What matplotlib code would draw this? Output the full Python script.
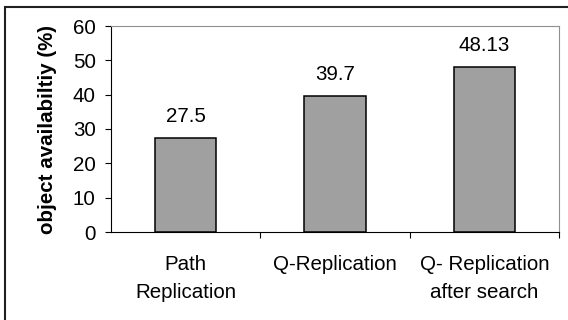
import matplotlib
matplotlib.use('Agg')
import matplotlib.pyplot as plt
from matplotlib.patches import Rectangle

# Data
categories = ['Path\nReplication', 'Q-Replication', 'Q- Replication\nafter search']
values = [27.5, 39.7, 48.13]
value_labels = ['27.5', '39.7', '48.13']
y_ticks = [0, 10, 20, 30, 40, 50, 60]

plt.rcParams['font.family'] = ['Liberation Sans', 'DejaVu Sans']
FS = 14.8

W, H = 568, 320
fig = plt.figure(figsize=(W / 100, H / 100), dpi=100)

# outer chart frame (only left/top visible in the reference)
fig.patches.append(Rectangle((5 / W, -0.1), 1.2, 1 - 7 / H + 0.1, transform=fig.transFigure,
                             fill=False, edgecolor='#202020', linewidth=1.5))

left, right, top, bottom = 111, 559, 26, 232
ax = fig.add_axes([left / W, 1 - bottom / H, (right - left) / W, (bottom - top) / H])

x = list(range(len(categories)))
ax.bar(x, values, width=0.41, color='#a0a0a0', edgecolor='black', linewidth=1.1, zorder=3)

for xi, v, lab in zip(x, values, value_labels):
    ax.annotate(lab, (xi, v), xytext=(0, 11.5), textcoords='offset points',
                ha='center', va='baseline', fontsize=FS)

ax.set_xlim(-0.5, 2.5)
ax.set_ylim(0, 60)
ax.set_yticks(y_ticks)
ax.tick_params(axis='y', direction='out', length=4, labelsize=FS, pad=7)

# category labels between boundary ticks
ax.set_xticks([0.5, 1.5, 2.5])
ax.set_xticklabels([])
ax.tick_params(axis='x', direction='out', length=4)
for xi, cat in zip(x, categories):
    ax.text(xi, -0.112, cat, transform=ax.get_xaxis_transform(), ha='center', va='top',
            fontsize=FS, linespacing=1.6)

ax.set_ylabel('object availabiltiy (%)', fontsize=FS, fontweight='bold', va='center')
ax.yaxis.set_label_coords((48 - left) / (right - left), 0.5)

for side in ['top', 'right']:
    ax.spines[side].set_color('#909090')
for side in ['left', 'bottom']:
    ax.spines[side].set_color('black')

fig.savefig('out.png', dpi=100)
